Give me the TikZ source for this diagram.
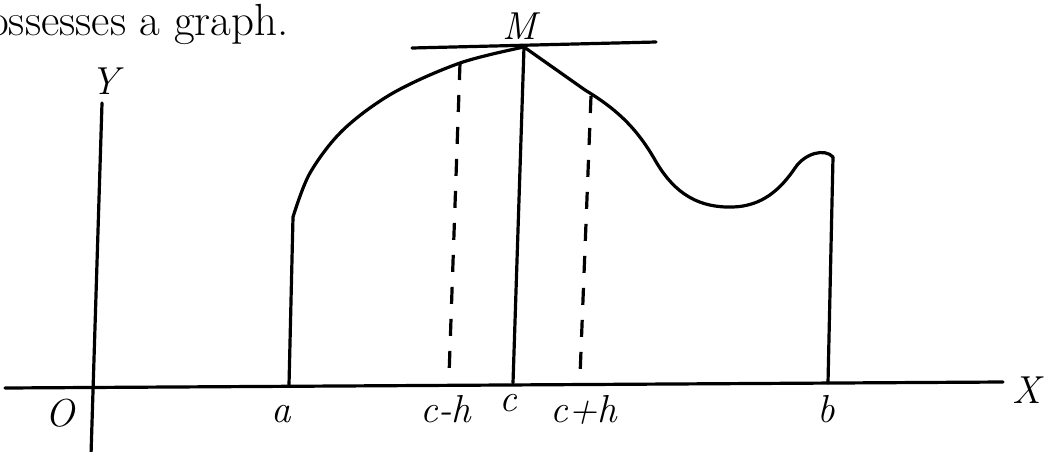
\documentclass[tikz,border=0pt]{standalone}
\begin{document}
\begin{tikzpicture}[x=1pt,y=-1pt,
  thickline/.style={line width=3.2pt, line cap=round, line join=round},
  dashline/.style={line width=3.2pt, dash pattern=on 17pt off 15pt},
  lbl/.style={inner sep=0pt, font=\fontsize{39}{44}\selectfont\itshape},
  txt/.style={inner sep=0pt, font=\fontsize{45}{50}\selectfont}]
\useasboundingbox (0,0) rectangle (1047,451);
% text
\node[txt, anchor=base west] (t) at (-12,35) {ossesses a graph.};
% key points
\coordinate (xl) at (5,388);
\coordinate (xr) at (1003,382);
\coordinate (yt) at (102,103);
\coordinate (yb) at (91,455);
\coordinate (A0) at (289,385);
\coordinate (A1) at (293,217);
\coordinate (M) at (524,47);
\coordinate (C0) at (513,383);
\coordinate (B1) at (833,157);
\coordinate (B0) at (828,383);
\coordinate (tl) at (412,48);
\coordinate (tr) at (656,42);
\coordinate (ch1) at (460,63);
\coordinate (ch0) at (449,376);
\coordinate (cp1) at (591,96);
\coordinate (cp0) at (580,376);
% axes
\draw[thickline] (xl) -- (xr);
\draw[thickline] (yt) -- (yb);
% tangent
\draw[thickline] (tl) -- (tr);
% curve
\draw[thickline] (A0) -- (A1)
  plot[smooth, tension=0.55] coordinates {(293,217) (310,173) (343,130) (393,93) (460,63) (524,47)};
\draw[thickline] (M) -- (585,90)
  .. controls (613,107) and (635,125) .. (655,160)
  .. controls (675,195) and (700,208) .. (733,207)
  .. controls (762,206) and (780,190) .. (795,168)
  .. controls (805,153) and (825,148) .. (B1);
\draw[thickline] (B1) -- (B0);
\draw[thickline] (M) -- (C0);
% dashed
\draw[dashline] (ch1) -- (ch0);
\draw[dashline] (cp1) -- (cp0);
% labels
\node[lbl] (lY) at (105,81) {Y};
\node[lbl] (lX) at (1027,390) {X};
\node[lbl] (lO) at (60,413) {O};
\node[lbl] (lM) at (520,26) {M};
\node[lbl, anchor=base] (la) at (281,422) {a};
\node[lbl, anchor=base] (lch) at (446,422) {c-h};
\node[lbl, anchor=base] (lc) at (508,411) {c};
\node[lbl, anchor=base] (lcp) at (584,422) {c+h};
\node[lbl, anchor=base] (lb) at (826,422) {b};
\end{tikzpicture}
\end{document}
